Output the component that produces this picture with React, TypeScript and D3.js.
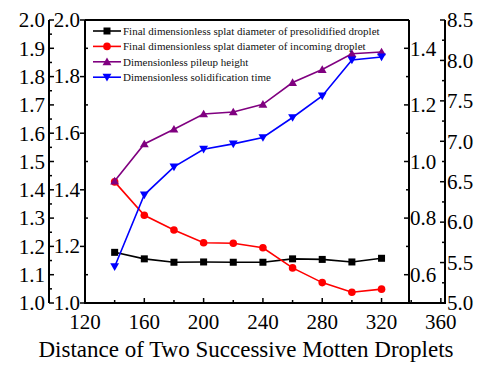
import React from "react";
import * as d3 from "d3";

const distances = [140, 160, 180, 200, 220, 240, 260, 280, 300, 320];
const presolidified = [1.179, 1.156, 1.144, 1.145, 1.144, 1.144, 1.156, 1.154, 1.145, 1.158];
const incoming = [1.428, 1.31, 1.258, 1.213, 1.211, 1.195, 1.124, 1.072, 1.038, 1.049];
const pileupHeight = [0.931, 1.062, 1.114, 1.168, 1.175, 1.202, 1.279, 1.325, 1.381, 1.387];
const solidificationTime = [5.449, 6.338, 6.684, 6.902, 6.968, 7.047, 7.294, 7.561, 8.006, 8.043];

const xTickLabels = [120, 160, 200, 240, 280, 320, 360];
const legendLabels = [
  "Final dimensionless splat diameter of presolidified droplet",
  "Final dimensionless splat diameter of incoming droplet",
  "Dimensionless pileup height",
  "Dimensionless solidification time",
];
const xTitle = "Distance of Two Successive Motten Droplets";

const FONT = "Liberation Serif";

export default function App() {
  const top = 20, bottom = 303;
  const xL = 85, xInnerR = 409, xOuterR = 445, xOuterL = 49;
  const x = d3.scaleLinear().domain([120, 362.8]).range([xL, xOuterR]);
  const yLeft = d3.scaleLinear().domain([1, 2]).range([bottom, top]);
  const yInner = d3.scaleLinear().domain([0.5, 1.5]).range([bottom, top]);
  const yOuter = d3.scaleLinear().domain([5, 8.5]).range([bottom, top]);

  const series = [
    { vals: presolidified, scale: yLeft, color: "#000000", marker: "square" },
    { vals: incoming, scale: yLeft, color: "#ff0000", marker: "circle" },
    { vals: pileupHeight, scale: yInner, color: "#800080", marker: "up" },
    { vals: solidificationTime, scale: yOuter, color: "#0000ff", marker: "down" },
  ];

  const marker = (type: string, cx: number, cy: number, color: string, key: any) => {
    if (type === "square") return <rect key={key} x={cx - 3.5} y={cy - 3.5} width={7} height={7} fill={color} />;
    if (type === "circle") return <circle key={key} cx={cx} cy={cy} r={3.8} fill={color} />;
    const s = d3.symbol().type(d3.symbolTriangle).size(34)();
    return (
      <path key={key} d={s as string} transform={`translate(${cx},${cy + (type === "up" ? 0.8 : -0.8)}) rotate(${type === "down" ? 180 : 0})`} fill={color} />
    );
  };

  const fmt1 = d3.format(".1f");
  const leftMajor = d3.range(1, 2.001, 0.1);
  const leftMinor = d3.range(1.05, 2, 0.1);
  const innerLMajor = d3.range(1, 2.001, 0.2);
  const innerLMinor = d3.range(1.1, 2, 0.2);
  const innerRMajor = d3.range(0.6, 1.401, 0.2);
  const innerRMinor = d3.range(0.5, 1.51, 0.2);
  const outerMajor = d3.range(5, 8.501, 0.5);
  const outerMinor = d3.range(5.25, 8.5, 0.5);
  const xMinor = d3.range(140, 361, 40);

  return (
    <svg width={485} height={365} style={{ position: "absolute", left: 0, top: 0 }}>
      <rect width={485} height={365} fill="#fff" />
      {/* frame */}
      <g stroke="#000" strokeWidth={2} fill="none">
        <line x1={xL} x2={xInnerR} y1={top} y2={top} />
        <line x1={xL} x2={xL} y1={top} y2={bottom} />
        <line x1={xL - 1} x2={xOuterR + 1} y1={bottom} y2={bottom} />
        <line x1={xInnerR} x2={xInnerR} y1={top} y2={bottom} />
        <line x1={xOuterR} x2={xOuterR} y1={top} y2={bottom} />
        <line x1={xOuterL} x2={xOuterL} y1={top} y2={bottom} />
      </g>
      {/* outer left axis */}
      <g stroke="#000" strokeWidth={1.5}>
        {leftMajor.map((v, i) => <line key={"olM" + i} x1={xOuterL} x2={xOuterL + 5} y1={yLeft(v)} y2={yLeft(v)} />)}
        {leftMinor.map((v, i) => <line key={"olm" + i} x1={xOuterL} x2={xOuterL + 3} y1={yLeft(v)} y2={yLeft(v)} />)}
      </g>
      <g fontSize={21} textAnchor="end" fontFamily={FONT}>
        {leftMajor.map((v, i) => <text key={"olt" + i} x={xOuterL - 4} y={yLeft(v)} dy="0.35em">{fmt1(v)}</text>)}
      </g>
      {/* inner left axis */}
      <g stroke="#000" strokeWidth={1.5}>
        {innerLMajor.map((v, i) => <line key={"ilM" + i} x1={xL - 5} x2={xL} y1={yLeft(v)} y2={yLeft(v)} />)}
        {innerLMinor.map((v, i) => <line key={"ilm" + i} x1={xL} x2={xL + 3} y1={yLeft(v)} y2={yLeft(v)} />)}
      </g>
      <g fontSize={21} textAnchor="end" fontFamily={FONT}>
        {innerLMajor.map((v, i) => <text key={"ilt" + i} x={xL - 5} y={yLeft(v)} dy="0.32em">{fmt1(v)}</text>)}
      </g>
      {/* inner right axis */}
      <g stroke="#000" strokeWidth={1.5}>
        {innerRMajor.map((v, i) => <line key={"irM" + i} x1={xInnerR - 5} x2={xInnerR} y1={yInner(v)} y2={yInner(v)} />)}
        {innerRMinor.map((v, i) => <line key={"irm" + i} x1={xInnerR - 3} x2={xInnerR} y1={yInner(v)} y2={yInner(v)} />)}
      </g>
      <g fontSize={21} textAnchor="start" fontFamily={FONT}>
        {innerRMajor.map((v, i) => <text key={"irt" + i} x={xInnerR + 1} y={yInner(v)} dy="0.35em">{fmt1(v)}</text>)}
      </g>
      {/* outer right axis */}
      <g stroke="#000" strokeWidth={1.5}>
        {outerMajor.map((v, i) => <line key={"orM" + i} x1={xOuterR - 5} x2={xOuterR} y1={yOuter(v)} y2={yOuter(v)} />)}
        {outerMinor.map((v, i) => <line key={"orm" + i} x1={xOuterR - 3} x2={xOuterR} y1={yOuter(v)} y2={yOuter(v)} />)}
      </g>
      <g fontSize={21} textAnchor="start" fontFamily={FONT}>
        {outerMajor.map((v, i) => <text key={"ort" + i} x={xOuterR + 2} y={yOuter(v)} dy="0.35em">{fmt1(v)}</text>)}
      </g>
      {/* bottom axis */}
      <g stroke="#000" strokeWidth={1.5}>
        {xTickLabels.map((v, i) => <line key={"bM" + i} x1={x(v)} x2={x(v)} y1={bottom} y2={bottom - 5} />)}
        {xMinor.map((v, i) => <line key={"bm" + i} x1={x(v)} x2={x(v)} y1={bottom} y2={bottom - 3} />)}
      </g>
      <g fontSize={21} textAnchor="middle" fontFamily={FONT}>
        {xTickLabels.map((v, i) => <text key={"bt" + i} x={x(v)} y={329}>{v}</text>)}
      </g>
      <text x={246} y={357} fontSize={23} textAnchor="middle" fontFamily={FONT}>{xTitle}</text>
      {/* series */}
      {series.map((s, si) => {
        const line = d3.line<number>().x((_, i) => x(distances[i])).y((v) => s.scale(v));
        return (
          <g key={"s" + si}>
            <path d={line(s.vals) as string} fill="none" stroke={s.color} strokeWidth={1.6} />
            {s.vals.map((v, i) => marker(s.marker, x(distances[i]), s.scale(v), s.color, i))}
          </g>
        );
      })}
      {/* legend */}
      {series.map((s, i) => {
        const cy = 31 + i * 15.4;
        return (
          <g key={"lg" + i}>
            <line x1={93} x2={121} y1={cy} y2={cy} stroke={s.color} strokeWidth={1.6} />
            {marker(s.marker, 107, cy, s.color, "m")}
            <text x={123} y={cy} dy="0.35em" fontSize={11} fill="#111" fontFamily={FONT}>{legendLabels[i]}</text>
          </g>
        );
      })}
    </svg>
  );
}
